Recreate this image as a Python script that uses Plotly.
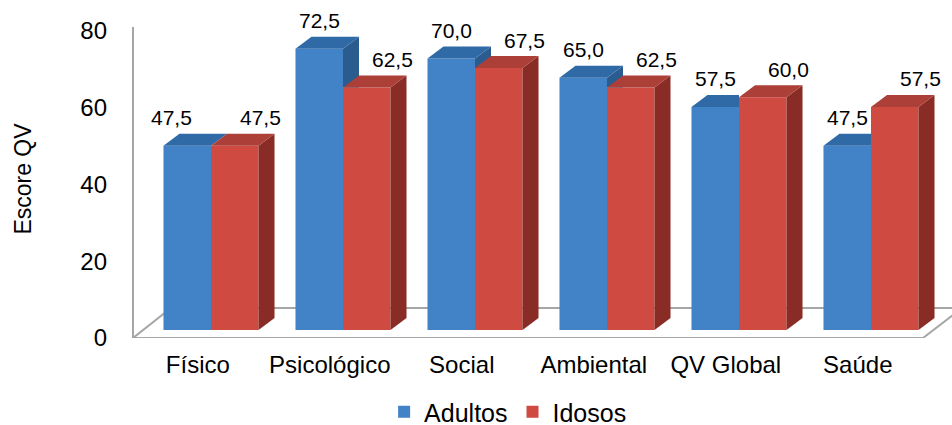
import plotly.graph_objects as go

# ---- data ----
categories = ["Físico", "Psicológico", "Social", "Ambiental", "QV Global", "Saúde"]
adultos = [47.5, 72.5, 70.0, 65.0, 57.5, 47.5]
idosos = [47.5, 62.5, 67.5, 62.5, 60.0, 57.5]
y_ticks = [0, 20, 40, 60, 80]

FONT = "Liberation Sans, Arial, sans-serif"
W_FIG, H_FIG = 952, 425

# ---- pixel geometry of the plot area ----
PX_L, PX_R, PX_T, PX_B = 130, 952, 20, 338
X_UNIT, X0_PX = 132.0, 211.0          # px per category, px of first group centre
Y_UNIT, Y0_PX = 3.88, 330.0           # px per score unit, px of bar base
T_UNIT, T0_PX = 3.8375, 338.0         # tick-label scale (front of floor)


def px_x(p):
    return (p - X0_PX) / X_UNIT


def px_y(p):
    return (Y0_PX - p) / Y_UNIT


BAR_W = 0.36                 # one bar width in category units
DX = 16 / X_UNIT             # depth offset
DY = 12 / Y_UNIT

BLUE_FRONT, BLUE_TOP, BLUE_SIDE = "#4282c6", "#2f69a6", "#2b5c90"
RED_FRONT, RED_TOP, RED_SIDE = "#cf4a40", "#ac3f37", "#8a2c26"

fig = go.Figure()
fig.add_trace(go.Bar(x=list(range(len(categories))), y=adultos, name="Adultos",
                     marker=dict(color=BLUE_FRONT, line=dict(width=0)), yaxis="y"))
fig.add_trace(go.Bar(x=list(range(len(categories))), y=idosos, name="Idosos",
                     marker=dict(color=RED_FRONT, line=dict(width=0)), yaxis="y"))


def poly(pts):
    return "M " + " L ".join(f"{x:.5f},{y:.5f}" for x, y in pts) + " Z"


shapes = []
# floor
shapes.append(dict(type="path", xref="x", yref="y", layer="below",
                   path=poly([(px_x(133), px_y(338)), (px_x(923), px_y(338)),
                              (px_x(962), px_y(308)), (px_x(171), px_y(308))]),
                   fillcolor="white", line=dict(color="#a6a6a6", width=2)))
# left wall edge
shapes.append(dict(type="line", xref="x", yref="y", layer="below",
                   x0=px_x(133), x1=px_x(133), y0=px_y(339), y1=px_y(27),
                   line=dict(color="#a6a6a6", width=2)))

annotations = []
for i, (vb, vr) in enumerate(zip(adultos, idosos)):
    # blue bar occupies [i-BAR_W, i], red bar [i, i+BAR_W]
    if vb > vr:
        shapes.append(dict(type="path", xref="x", yref="y", layer="above",
                           path=poly([(i, vr), (i, vb), (i + DX, vb + DY), (i + DX, vr)]),
                           fillcolor=BLUE_SIDE, line=dict(width=0)))
    if vr > vb:
        top_b = [(i - BAR_W, vb), (i, vb), (i, vb + DY), (i - BAR_W + DX, vb + DY)]
    else:
        top_b = [(i - BAR_W, vb), (i, vb), (i + DX, vb + DY), (i - BAR_W + DX, vb + DY)]
    shapes.append(dict(type="path", xref="x", yref="y", layer="above",
                       path=poly(top_b), fillcolor=BLUE_TOP, line=dict(width=0)))
    shapes.append(dict(type="path", xref="x", yref="y", layer="above",
                       path=poly([(i + BAR_W, 0), (i + BAR_W, vr),
                                  (i + BAR_W + DX, vr + DY), (i + BAR_W + DX, DY)]),
                       fillcolor=RED_SIDE, line=dict(width=0)))
    shapes.append(dict(type="path", xref="x", yref="y", layer="above",
                       path=poly([(i, vr), (i + BAR_W, vr), (i + BAR_W + DX, vr + DY),
                                  (i + DX, vr + DY)]),
                       fillcolor=RED_TOP, line=dict(width=0)))
    # value labels
    annotations.append(dict(x=i - BAR_W / 2, y=vb, xref="x", yref="y",
                            text=f"{vb:.1f}".replace(".", ","), showarrow=False,
                            xshift=-16 if vb == vr else 0, yshift=28,
                            font=dict(family=FONT, size=21, color="black")))
    annotations.append(dict(x=i + BAR_W / 2, y=vr, xref="x", yref="y",
                            text=f"{vr:.1f}".replace(".", ","), showarrow=False,
                            xshift=26, yshift=28,
                            font=dict(family=FONT, size=21, color="black")))

fig.update_layout(
    width=W_FIG, height=H_FIG,
    margin=dict(l=PX_L, r=W_FIG - PX_R, t=PX_T, b=H_FIG - PX_B, autoexpand=False),
    paper_bgcolor="white", plot_bgcolor="white",
    barmode="group", bargap=0.28, bargroupgap=0,
    font=dict(family=FONT, color="black"),
    shapes=shapes, annotations=annotations,
    xaxis=dict(range=[px_x(PX_L), px_x(PX_R)], automargin=False,
               tickvals=[i - 0.1 for i in range(len(categories))], ticktext=categories,
               tickfont=dict(family=FONT, size=24, color="black"),
               showgrid=False, zeroline=False, showline=False, ticks="",
               ticklabelstandoff=10),
    yaxis=dict(range=[px_y(PX_B), px_y(PX_T)], showticklabels=False, showgrid=False,
               zeroline=False, showline=False, ticks="", automargin=False),
    yaxis2=dict(overlaying="y", side="left", range=[0, (T0_PX - PX_T) / T_UNIT],
                automargin=False,
                tickvals=y_ticks, ticktext=[str(t) for t in y_ticks],
                tickfont=dict(family=FONT, size=24, color="black"),
                showgrid=False, zeroline=False, showline=False, ticks="",
                ticklabelstandoff=22,
                title=dict(text="Escore QV", font=dict(family=FONT, size=23, color="black"),
                           standoff=42)),
    legend=dict(orientation="h", x=0.46, xanchor="center",
                y=(PX_B - 412) / (PX_B - PX_T), yanchor="middle",
                font=dict(family=FONT, size=25, color="black"), traceorder="normal"),
    showlegend=True,
)

# dummy trace on yaxis2 so the tick axis is drawn
fig.add_trace(go.Scatter(x=[None], y=[None], yaxis="y2", showlegend=False, hoverinfo="skip"))

fig.write_html("out.html", config={"displayModeBar": False},
               post_script="document.body.style.margin='0';document.body.style.overflow='hidden';")
